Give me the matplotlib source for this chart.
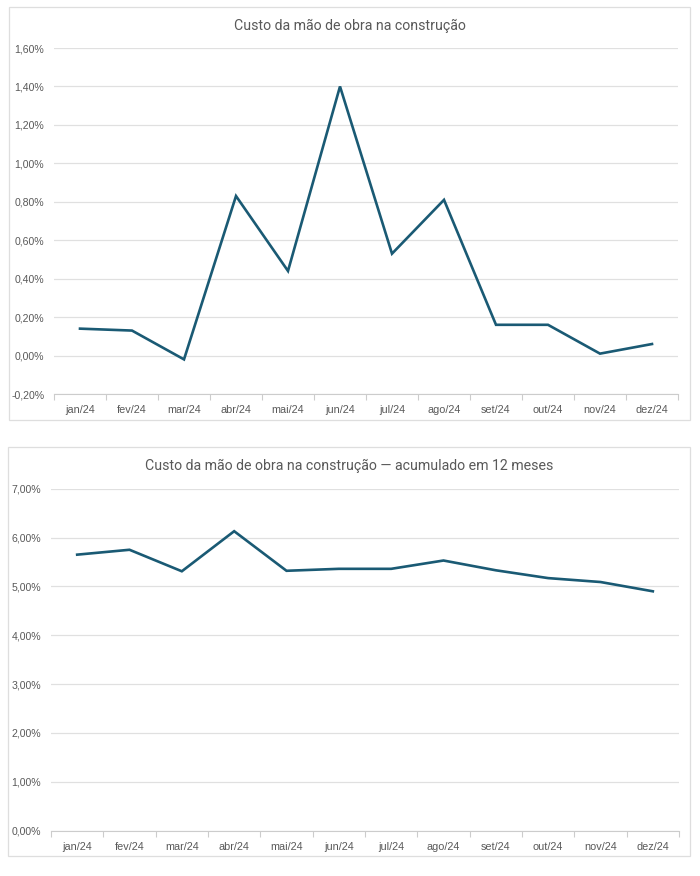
import numpy as np
import matplotlib
matplotlib.use("Agg")
import matplotlib.pyplot as plt
from matplotlib.patches import Rectangle
from matplotlib.ticker import FixedLocator, FuncFormatter

# Data
meses = ["jan/24", "fev/24", "mar/24", "abr/24", "mai/24", "jun/24",
         "jul/24", "ago/24", "set/24", "out/24", "nov/24", "dez/24"]
variacao_mensal = [0.14, 0.13, -0.02, 0.83, 0.44, 1.40,
                   0.53, 0.81, 0.16, 0.16, 0.01, 0.06]
acumulado_12m = [5.65, 5.75, 5.31, 6.13, 5.32, 5.36,
                 5.36, 5.53, 5.33, 5.17, 5.09, 4.90]
titulo_mensal = "Custo da mão de obra na construção"
titulo_acum = "Custo da mão de obra na construção — acumulado em 12 meses"

W, H = 700, 876
LINE = "#1a5a74"
GRID = "#e0e0e0"
TXT = "#595959"
TITLE_FONT = ["Roboto", "DejaVu Sans"]
TICK_FONT = ["Liberation Sans Narrow", "Liberation Sans", "DejaVu Sans"]


def px_axes(fig, x0, y0, x1, y1):
    return fig.add_axes([x0 / W, 1 - y1 / H, (x1 - x0) / W, (y1 - y0) / H])


def pct(v, _pos=None):
    return "{:.2f}%".format(v).replace(".", ",")


def draw_panel(fig, box, plot, values, ylim, ystep, title, title_y):
    bx0, by0, bx1, by1 = box
    fig.patches.append(Rectangle((bx0 / W, 1 - by1 / H), (bx1 - bx0) / W, (by1 - by0) / H,
                                 transform=fig.transFigure, fill=False,
                                 edgecolor="#dedede", linewidth=0.9))
    fig.text((bx0 + bx1) / 2 / W, 1 - title_y / H, title, ha="center", va="center",
             fontsize=10.2, color=TXT, family=TITLE_FONT)

    ax = px_axes(fig, *plot)
    n = len(values)
    xx = np.arange(n) + 0.5
    ax.plot(xx, values, color=LINE, linewidth=1.9, solid_joinstyle="miter", zorder=3)

    ax.set_xlim(0, n)
    ax.set_ylim(*ylim)
    yt = np.arange(ylim[0], ylim[1] + ystep / 2, ystep)
    ax.set_yticks(yt)
    ax.yaxis.set_major_formatter(FuncFormatter(pct))
    ax.grid(axis="y", color=GRID, linewidth=0.9, zorder=0)

    # category boundary ticks, labels in the middle
    ax.xaxis.set_major_locator(FixedLocator(np.arange(n + 1)))
    ax.xaxis.set_minor_locator(FixedLocator(xx))
    ax.set_xticklabels([""] * (n + 1))
    ax.set_xticks(xx, meses, minor=True)
    ax.tick_params(axis="x", which="major", length=4, color="#cccccc", width=0.8)
    ax.tick_params(axis="x", which="minor", length=0, pad=8, labelsize=7.8, labelcolor=TXT)
    ax.tick_params(axis="y", length=0, pad=7, labelsize=7.6, labelcolor=TXT)
    for lab in ax.get_xticklabels(minor=True) + ax.get_yticklabels():
        lab.set_family(TICK_FONT)

    for s in ["top", "right", "left"]:
        ax.spines[s].set_visible(False)
    ax.spines["bottom"].set_color("#cccccc")
    ax.spines["bottom"].set_linewidth(0.8)
    ax.set_facecolor("none")
    return ax


fig = plt.figure(figsize=(W / 100, H / 100), dpi=100, facecolor="white")

draw_panel(fig, (9, 7, 690, 420), (54, 48, 678, 394), variacao_mensal,
           (-0.2, 1.6), 0.2, titulo_mensal, 26)
draw_panel(fig, (8, 447, 690, 856), (51, 488.7, 679, 830.7), acumulado_12m,
           (0.0, 7.0), 1.0, titulo_acum, 466)

fig.savefig("out.png", dpi=100, facecolor="white")
